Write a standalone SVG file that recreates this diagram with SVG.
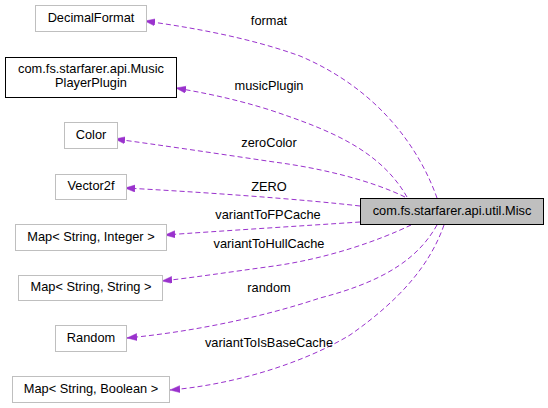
<svg xmlns="http://www.w3.org/2000/svg" width="548" height="408" viewBox="0 0 548 408">
<style>
text { font-family: "Liberation Sans", Arial, sans-serif; font-size: 12.8px; fill: #000; }
.node text { text-anchor: middle; }
.box { fill: #fff; stroke: #bfbfbf; stroke-width: 1; }
.box.hl { stroke: #000; }
.box.main { fill: #bfbfbf; stroke: #000; }
.edge { fill: none; stroke: #9a32cd; stroke-width: 1; stroke-dasharray: 5,3; }
.lbl { text-anchor: middle; }
</style>
<defs>
<marker id="arr" markerUnits="userSpaceOnUse" markerWidth="11" markerHeight="8" refX="10" refY="3.5" orient="auto" viewBox="0 0 11 8">
<path d="M0,0 L10,3.5 L0,7 z" fill="#9a32cd" stroke="#9a32cd" stroke-width="0.5"/>
</marker>
</defs>
<rect width="548" height="408" fill="#fff"/>
<g id="edges">
<path class="edge" marker-end="url(#arr)" d="M437,198 C420,150 380,90 300,56 C250,38 195,28 145,21"/>
<path class="edge" marker-end="url(#arr)" d="M407,197 C380,150 330,130 270,110 C235,99 205,93 176,88"/>
<path class="edge" marker-end="url(#arr)" d="M405,197 C370,180 320,168 274,162 C220,154 160,145 115,139"/>
<path class="edge" marker-end="url(#arr)" d="M360,206 C300,199 200,192 125,188"/>
<path class="edge" marker-end="url(#arr)" d="M360,222 C300,226 220,231 165,235"/>
<path class="edge" marker-end="url(#arr)" d="M411,225 C380,240 330,258 274,266 C230,272 190,278 162,281"/>
<path class="edge" marker-end="url(#arr)" d="M437,225 C420,255 390,280 320,298 C260,318 190,332 127,338"/>
<path class="edge" marker-end="url(#arr)" d="M444,225 C430,265 400,300 350,335 C300,365 230,385 170,390"/>
<text class="lbl" x="269" y="25">format</text>
<text class="lbl" x="269" y="90">musicPlugin</text>
<text class="lbl" x="269" y="147">zeroColor</text>
<text class="lbl" x="269" y="191">ZERO</text>
<text class="lbl" x="268" y="219">variantToFPCache</text>
<text class="lbl" x="269" y="248">variantToHullCache</text>
<text class="lbl" x="269" y="292">random</text>
<text class="lbl" x="269" y="347">variantToIsBaseCache</text>
</g>
<g id="node-misc" class="node">
<rect class="box main" x="360.5" y="198.5" width="183" height="26"/>
<text x="452" y="215">com.fs.starfarer.api.util.Misc</text>
</g>
<g id="node-decimalformat" class="node">
<rect class="box" x="35.5" y="5.5" width="111" height="26"/>
<text x="91" y="22">DecimalFormat</text>
</g>
<g id="node-musicplayerplugin" class="node">
<rect class="box hl" x="5.5" y="57.5" width="171" height="40"/>
<text x="91" y="73">com.fs.starfarer.api.Music</text>
<text x="91" y="87">PlayerPlugin</text>
</g>
<g id="node-color" class="node">
<rect class="box" x="64.5" y="122.5" width="53" height="26"/>
<text x="91" y="139">Color</text>
</g>
<g id="node-vector2f" class="node">
<rect class="box" x="55.5" y="174.5" width="71" height="25"/>
<text x="91" y="190">Vector2f</text>
</g>
<g id="node-map-integer" class="node">
<rect class="box" x="15.5" y="224.5" width="151" height="26"/>
<text x="91" y="241">Map&lt; String, Integer &gt;</text>
</g>
<g id="node-map-string" class="node">
<rect class="box" x="18.5" y="275.5" width="144" height="25"/>
<text x="91" y="291">Map&lt; String, String &gt;</text>
</g>
<g id="node-random" class="node">
<rect class="box" x="55.5" y="325.5" width="71" height="26"/>
<text x="91" y="342">Random</text>
</g>
<g id="node-map-boolean" class="node">
<rect class="box" x="12.5" y="376.5" width="157" height="26"/>
<text x="91" y="393">Map&lt; String, Boolean &gt;</text>
</g>
</svg>
